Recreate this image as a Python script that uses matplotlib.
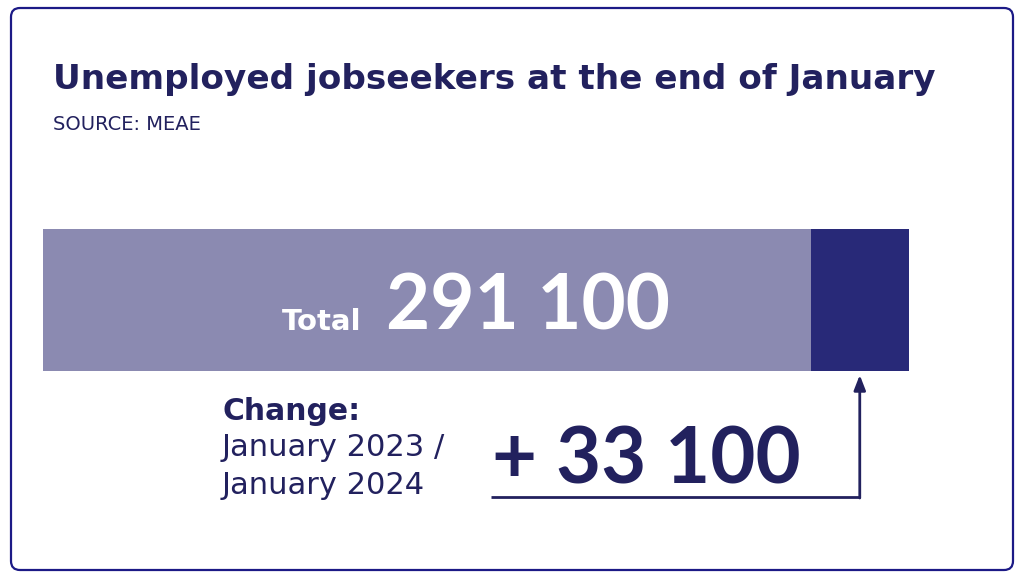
import matplotlib.pyplot as plt
from matplotlib.patches import FancyBboxPatch

# data
segments = ["Jan 2023 level", "Change"]
values = [258000, 33100]
total = sum(values)
change = values[1]

title = "Unemployed jobseekers at the end of January"
source = "SOURCE: MEAE"

navy = "#22215e"
light = "#8b8ab1"
dark = "#282978"
frame_col = "#1c1a86"

plt.rcParams["font.family"] = ["DejaVu Sans"]
big = ["Lato", "DejaVu Sans"]

W, H = 1024, 576
fig = plt.figure(figsize=(10.24, 5.76), dpi=100)
bg = fig.add_axes([0, 0, 1, 1])
bg.set_xlim(0, W)
bg.set_ylim(H, 0)
bg.axis("off")

bg.add_patch(FancyBboxPatch((11, 8), 1002, 562, boxstyle="round,pad=0,rounding_size=9",
                            fc="white", ec=frame_col, lw=1.6))

# bar axes: pixel span 43..909, y 229..371
ax = fig.add_axes([43 / W, 1 - 371 / H, (909 - 43) / W, (371 - 229) / H])
ax.set_xlim(0, total)
ax.set_ylim(0, 1)
ax.axis("off")
left = 0
for v, c in zip(values, [light, dark]):
    ax.barh(0.5, v, left=left, height=1, color=c, edgecolor="none")
    left += v

# overlay for text and arrow
top = fig.add_axes([0, 0, 1, 1])
top.set_xlim(0, W)
top.set_ylim(H, 0)
top.axis("off")
top.patch.set_alpha(0)

top.text(53, 80, title, fontsize=24.7, fontweight="bold", color=navy, va="center")
top.text(53, 124, source, fontsize=14, color=navy, va="center")

top.text(362, 330, "Total", fontsize=21, fontweight="bold", color="white",
         ha="right", va="baseline")
top.text(386, 330, f"{total:,}".replace(",", " "), fontsize=55, fontweight="bold",
         color="white", family=big, ha="left", va="baseline")

top.text(222, 420, "Change:", fontsize=21.4, fontweight="bold", color=navy, va="baseline")
top.text(222, 456, "January 2023 /", fontsize=22, color=navy, va="baseline")
top.text(222, 494, "January 2024", fontsize=22, color=navy, va="baseline")
top.text(492, 483, "+ " + f"{change:,}".replace(",", " "), fontsize=56, fontweight="bold",
         color=navy, family=big, va="baseline")

# arrow from the label up to the change segment
xa = values[0] + change / 2
x_pix = ax.transData.transform((xa, 0))[0] / fig.dpi * 100
top.plot([491, x_pix], [497, 497], color=navy, lw=2, solid_capstyle="butt")
top.annotate("", xy=(x_pix, 375), xytext=(x_pix, 498),
             arrowprops=dict(arrowstyle="-|>,head_width=0.35,head_length=0.9",
                             color=navy, lw=2, shrinkA=0, shrinkB=0))

fig.savefig("out.png", dpi=100)
